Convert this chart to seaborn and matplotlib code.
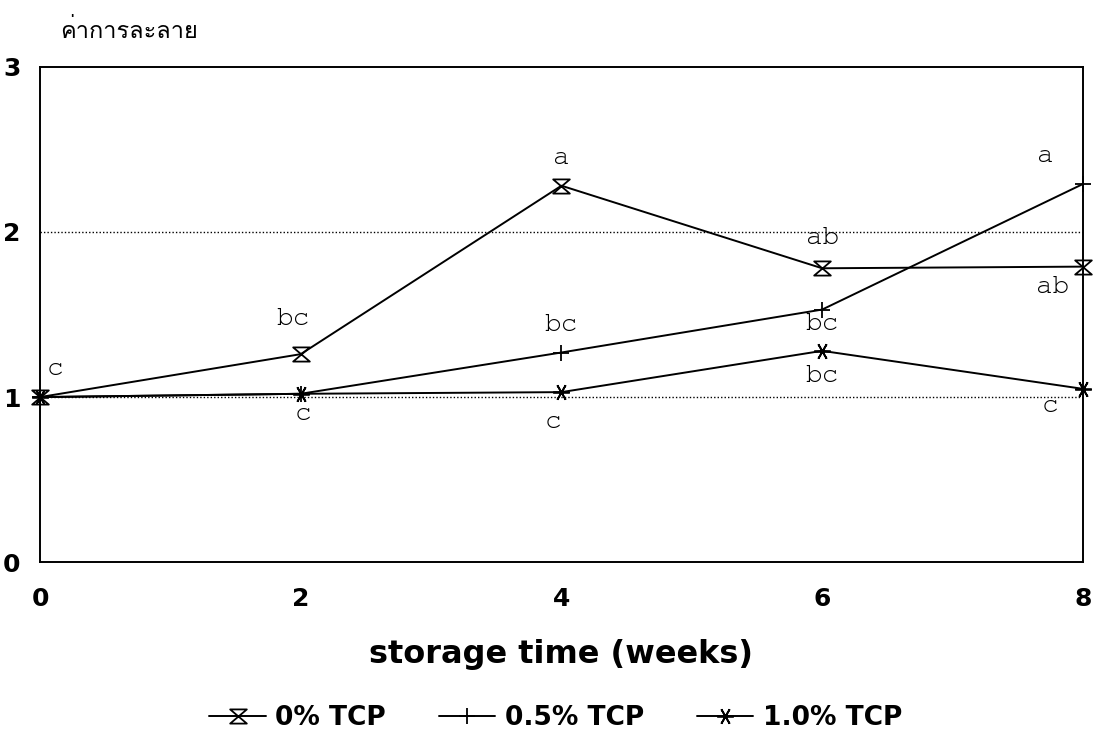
import numpy as np
import pandas as pd
import matplotlib
matplotlib.use("Agg")
import matplotlib.pyplot as plt
import seaborn as sns
from matplotlib import font_manager
from matplotlib.ft2font import FT2Font
from matplotlib.path import Path

weeks = [0, 2, 4, 6, 8]
tcp_0 = [1.00, 1.26, 2.28, 1.78, 1.79]
tcp_05 = [1.00, 1.02, 1.27, 1.53, 2.29]
tcp_10 = [1.00, 1.02, 1.03, 1.28, 1.05]
series_names = ["0% TCP", "0.5% TCP", "1.0% TCP"]

letters_0 = ["c", "bc", "a", "ab", "ab"]
letters_05 = ["", "", "bc", "bc", "a"]
letters_10 = ["", "c", "c", "bc", "c"]

y_label = "ค่าการละลาย"
x_label = "storage time (weeks)"


def find_font(codepoint, prefer=()):
    names = {f.name for f in font_manager.fontManager.ttflist}
    for name in prefer:
        if name in names:
            return name
    for f in font_manager.fontManager.ttflist:
        try:
            if codepoint in FT2Font(f.fname).get_charmap():
                return f.name
        except Exception:
            pass
    return "DejaVu Sans"


sns.set_style("white")
plt.rcParams['font.family'] = ['DejaVu Sans']
for key in ['text.color', 'axes.labelcolor', 'xtick.color', 'ytick.color']:
    plt.rcParams[key] = 'black'
thai_font = find_font(0x0E04)
mono_font = find_font(0x61, prefer=("Courier New", "Nimbus Mono PS", "FreeMono",
                                    "Courier", "Liberation Mono"))

df = pd.DataFrame({
    "week": weeks * 3,
    "value": tcp_0 + tcp_05 + tcp_10,
    "series": [s for s in series_names for _ in weeks],
})

hourglass = Path([(-1, 0.85), (1, 0.85), (-1, -0.85), (1, -0.85), (-1, 0.85)],
                 [Path.MOVETO, Path.LINETO, Path.LINETO, Path.LINETO, Path.CLOSEPOLY])
markers = {"0% TCP": hourglass, "0.5% TCP": "+", "1.0% TCP": (6, 2, 30)}

fig = plt.figure(figsize=(10.96, 7.34), dpi=100)
ax = fig.add_axes([0.0365, 0.234, 0.9515, 0.675])

for name in series_names:
    sub = df[df["series"] == name]
    sns.lineplot(data=sub, x="week", y="value", ax=ax, color="black", lw=1.4,
                 marker=markers[name], markersize=12, markerfacecolor="none",
                 markeredgecolor="black", markeredgewidth=1.3, label=name,
                 clip_on=False)

for yv in [1, 2]:
    ax.axhline(yv, color="black", lw=1.0, ls=(0, (1, 1.5)), zorder=0)

# significance letters
offsets_0 = [(15, 28), (-8, 35), (0, 28), (0, 30), (-30, -20)]
offsets_05 = [(0, 0), (0, 0), (0, 28), (0, -14), (-38, 28)]
offsets_10 = [(0, 0), (2, -20), (-8, -30), (0, -25), (-33, -17)]
for vals, labs, offs in [(tcp_0, letters_0, offsets_0),
                         (tcp_05, letters_05, offsets_05),
                         (tcp_10, letters_10, offsets_10)]:
    for x, y, t, o in zip(weeks, vals, labs, offs):
        if t:
            ax.annotate(t, (x, y), xytext=o, textcoords="offset pixels",
                        ha="center", va="center", fontsize=20,
                        family=[mono_font, "DejaVu Sans Mono"], color="black")

ax.set_xlim(0, 8)
ax.set_ylim(0, 3)
ax.set_xticks(weeks)
ax.set_yticks([0, 1, 2, 3])
ax.tick_params(axis="both", direction="in", length=6, width=1.2,
               labelsize=18, pad=18)
ax.tick_params(axis="y", length=0, pad=14)
for lab in ax.get_xticklabels() + ax.get_yticklabels():
    lab.set_fontweight("bold")
for sp in ax.spines.values():
    sp.set_linewidth(1.4)
    sp.set_color("black")
ax.set_xlabel(x_label, fontsize=23, fontweight="bold", labelpad=20)
ax.set_ylabel("")
fig.text(0.055, 0.958, y_label, fontsize=17, family=[thai_font, 'DejaVu Sans'],
         ha="left", va="center")

ax.get_legend().remove()
handles, labels = ax.get_legend_handles_labels()
fig.legend(handles, labels, loc="center", bbox_to_anchor=(0.507, 0.022), ncol=3,
           frameon=False, prop={"weight": "bold", "size": 19},
           handlelength=2.15, columnspacing=2.0, handletextpad=0.35)

fig.savefig("out.png", dpi=100)
